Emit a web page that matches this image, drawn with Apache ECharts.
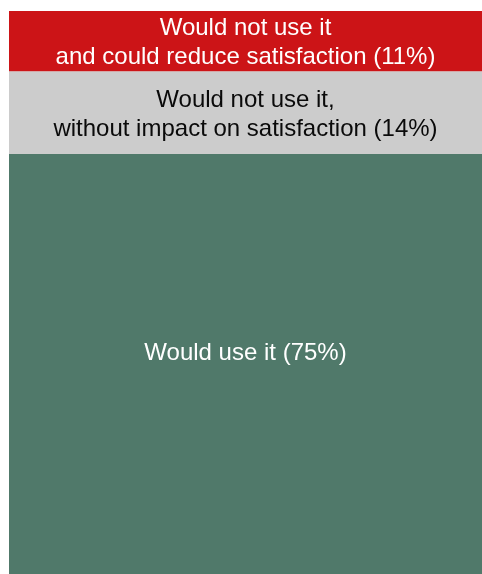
<!DOCTYPE html>
<html>
<head>
    <meta charset="utf-8">
    <title>usage</title>
    <script src="https://cdn.jsdelivr.net/npm/echarts@6/dist/echarts.min.js"></script>
    <style>
        html, body { margin: 0; padding: 0; background: #fff; }
    </style>
</head>
<body>
<div id="chart1" style="width: 482px; height: 574px;"></div>
<script>
    // share of answers, bottom to top
    var categories = ['all'];
    var seriesNames = ['Would use it (75%)',
        'Would not use it,\nwithout impact on satisfaction (14%)',
        'Would not use it\nand could reduce satisfaction (11%)'];
    var useIt = [74.6];
    var noImpact = [14.7];
    var reduce = [10.7];

    var colors = ['#50796a', '#cccccc', '#cc1417'];
    var textColors = ['#ffffff', '#0a0a0a', '#ffffff'];
    var values = [useIt, noImpact, reduce];

    var myChart = echarts.init(document.getElementById('chart1'));
    var series = [];
    for (var i = 0; i < values.length; i++) {
        series.push({
            name: seriesNames[i],
            type: 'bar',
            stack: 'total',
            barWidth: '100%',
            data: values[i],
            itemStyle: {color: colors[i]},
            label: {
                show: true,
                position: 'inside',
                formatter: seriesNames[i],
                color: textColors[i],
                fontFamily: 'Liberation Sans, Arial, sans-serif',
                fontSize: 24,
                lineHeight: 29,
                offset: i === 0 ? [0, -11] : [0, 2]
            }
        });
    }

    var option = {
        animation: false,
        grid: {left: 9, right: 0, top: 11, bottom: 0},
        xAxis: {
            type: 'category',
            data: categories,
            show: false
        },
        yAxis: {
            type: 'value',
            min: 0,
            max: 100,
            show: false
        },
        series: series
    };
    myChart.setOption(option);
</script>
</body>
</html>
